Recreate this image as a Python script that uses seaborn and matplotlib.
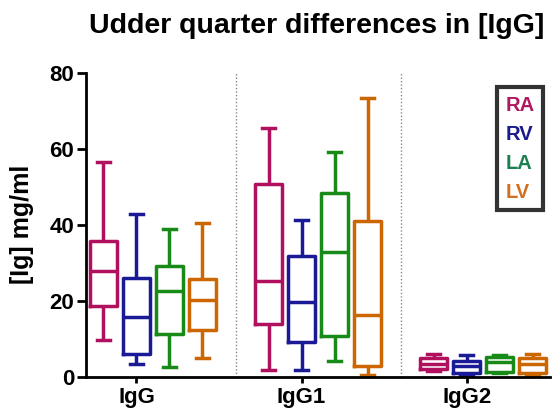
import matplotlib
matplotlib.use("Agg")
import matplotlib.pyplot as plt
import seaborn as sns
import pandas as pd

# five-number summaries: min, Q1, median, Q3, max
classes = ["IgG", "IgG1", "IgG2"]
quarters = ["RA", "RV", "LA", "LV"]
igg = {
    "RA": [9.9, 18.8, 27.8, 35.8, 56.5],
    "RV": [3.6, 6.2, 15.8, 26.2, 42.8],
    "LA": [2.7, 11.4, 22.7, 29.3, 38.9],
    "LV": [5.1, 12.3, 20.4, 25.8, 40.6],
}
igg1 = {
    "RA": [2.0, 14.0, 25.4, 50.9, 65.4],
    "RV": [2.0, 9.4, 19.9, 31.9, 41.2],
    "LA": [4.4, 10.8, 32.8, 48.3, 59.2],
    "LV": [0.5, 2.9, 16.4, 41.0, 73.5],
}
igg2 = {
    "RA": [1.6, 2.2, 3.5, 5.0, 6.1],
    "RV": [0.5, 1.0, 3.0, 4.4, 5.9],
    "LA": [1.0, 1.4, 4.0, 5.3, 5.9],
    "LV": [0.7, 1.0, 3.6, 5.0, 6.2],
}
box_colors = ["#B0105E", "#1A1A96", "#178A17", "#CC6600"]
legend_colors = ["#B0185F", "#1A1A8C", "#1B7F4F", "#D07020"]


def main():
    rows = []
    for cls, summ in zip(classes, [igg, igg1, igg2]):
        for q in quarters:
            for v in summ[q]:
                rows.append({"cls": cls, "quarter": q, "value": v})
    df = pd.DataFrame(rows)

    plt.rcParams["font.family"] = ["Liberation Sans", "DejaVu Sans"]
    plt.rcParams["font.weight"] = "bold"
    fig = plt.figure(figsize=(5.58, 4.09), dpi=100)
    ax = fig.add_axes([0.154, 0.0775, 0.832, 0.7445])

    sns.boxplot(data=df, x="cls", y="value", hue="quarter", order=classes,
                hue_order=quarters, palette=box_colors, fill=False,
                whis=(0, 100), width=0.8, gap=0.18, linewidth=2.5,
                showfliers=False, legend=False, ax=ax)

    for xs in [0.5, 1.5]:
        ax.axvline(xs, color="#888888", linestyle=(0, (1, 1.5)), lw=1)

    ax.set_xlim(-0.406, 2.406)
    ax.set_ylim(0, 80)
    ax.set_yticks([0, 20, 40, 60, 80])
    ax.set_xticks([-0.1, 0.9, 1.9])
    ax.set_xticklabels(classes)
    sns.despine(ax=ax)
    for s in ["left", "bottom"]:
        ax.spines[s].set_linewidth(2)
    ax.tick_params(axis="y", length=6.5, width=2, labelsize=16, pad=2)
    ax.tick_params(axis="x", length=4, width=2, labelsize=16, pad=3)
    ax.set_xlabel("")
    ax.set_ylabel("[Ig] mg/ml", fontsize=18, fontweight="bold")
    ax.yaxis.set_label_coords(-0.112, 0.503)
    fig.text(0.5676, 0.936, "Udder quarter differences in [IgG]",
             fontsize=20.5, fontweight="bold", ha="center", va="center")

    handles = [plt.Line2D([], [], linestyle="none") for _ in quarters]
    leg = ax.legend(handles, quarters, loc="upper right",
                    bbox_to_anchor=(0.985, 0.953), handlelength=0,
                    handletextpad=0, fontsize=14.5, labelspacing=0.5,
                    frameon=True, fancybox=False, borderpad=0.42,
                    borderaxespad=0)
    leg.get_frame().set_edgecolor("black")
    leg.get_frame().set_linewidth(3)
    for t, c in zip(leg.get_texts(), legend_colors):
        t.set_color(c)
        t.set_fontweight("bold")

    plt.savefig("out.png", dpi=100)
    plt.close()


if __name__ == "__main__":
    main()
